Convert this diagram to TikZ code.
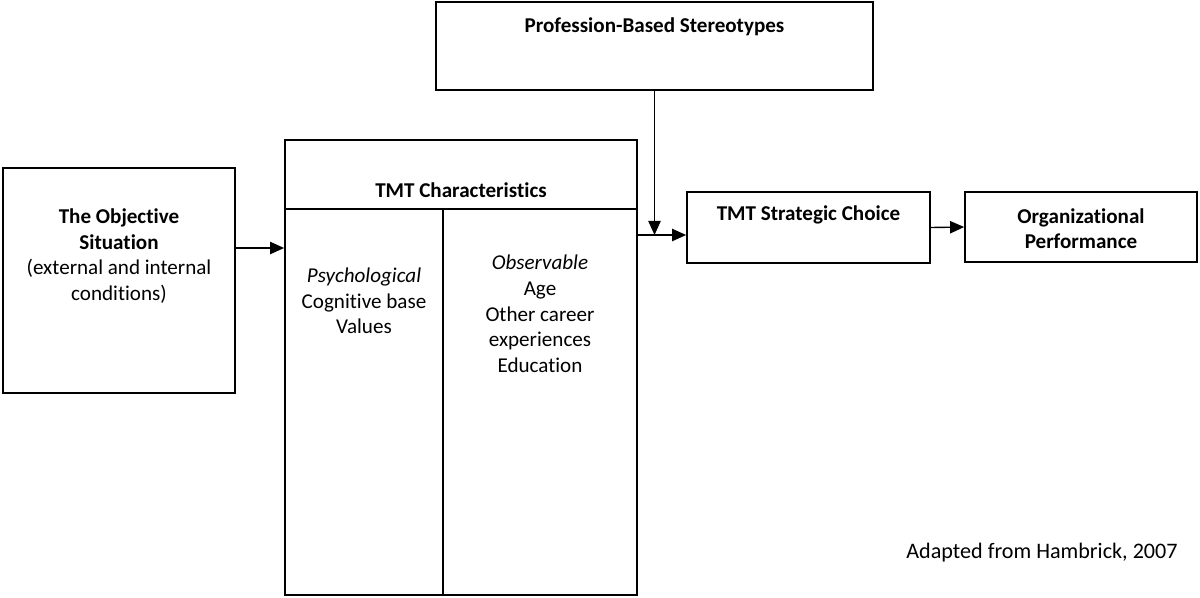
\documentclass[tikz,border=0pt]{standalone}
\usepackage{fontspec}
\setmainfont{Carlito}[Ligatures=NoCommon]
\usepackage{tikz}
\usetikzlibrary{arrows.meta}

\begin{document}
\begin{tikzpicture}[
  box/.style={draw,line width=1pt,inner sep=0pt},
  arr/.style={line width=0.8pt,-{Triangle[length=8pt,width=7pt]}},
  txt/.style={align=center,font=\fontsize{12}{14.6}\selectfont}]
\useasboundingbox (0,0) rectangle (24,-11.94);
% boxes
\node[box,minimum width=4.64cm,minimum height=4.5cm] (obj) at (2.38,-5.61) {};
\node[box,minimum width=7.04cm,minimum height=9.1cm] (tmt) at (9.22,-7.35) {};
\node[box,minimum width=8.74cm,minimum height=1.76cm] (prof) at (13.09,-0.92) {};
\node[box,minimum width=4.86cm,minimum height=1.42cm] (strat) at (16.17,-4.55) {};
\node[box,minimum width=4.64cm,minimum height=1.4cm] (org) at (21.62,-4.54) {};
% inside the TMT box
\coordinate (H) at (0,-4.18);
\coordinate (V) at (8.86,0);
\draw[line width=1pt] (tmt.west |- H) -- (tmt.east |- H);
\draw[line width=1pt] (V |- H) -- (V |- tmt.south);
% texts
\node[txt] (objT) at (2.38,-5.12) {\textbf{The Objective}\\\textbf{Situation}\\(external and internal\\conditions)};
\node[txt] (tmtT) at (9.22,-3.8) {\textbf{TMT Characteristics}};
\node[txt] (psyT) at (7.28,-6.02) {\textit{Psychological}\\Cognitive base\\Values};
\node[txt] (obsT) at (10.8,-6.28) {\textit{Observable}\\Age\\Other career\\experiences\\Education};
\node[txt] (profT) at (13.09,-0.54) {\textbf{Profession-Based Stereotypes}};
\node[txt] (stratT) at (16.17,-4.3) {\textbf{TMT Strategic Choice}};
\node[txt] (orgT) at (21.62,-4.57) {\textbf{Organizational}\\\textbf{Performance}};
\node[txt,font=\fontsize{12.6}{15}\selectfont] (src) at (20.84,-11.06) {Adapted from Hambrick, 2007};
% arrows
\coordinate (J1) at (0,-4.96);
\coordinate (J2) at (0,-4.70);
\draw[arr] (obj.east |- J1) -- (tmt.west |- J1);
\draw[arr] (tmt.east |- J2) -- (strat.west |- J2);
\draw[arr] (prof.south) -- (prof.south |- J2);
\draw[arr] (strat.east) -- (org.west);
\end{tikzpicture}
\end{document}
